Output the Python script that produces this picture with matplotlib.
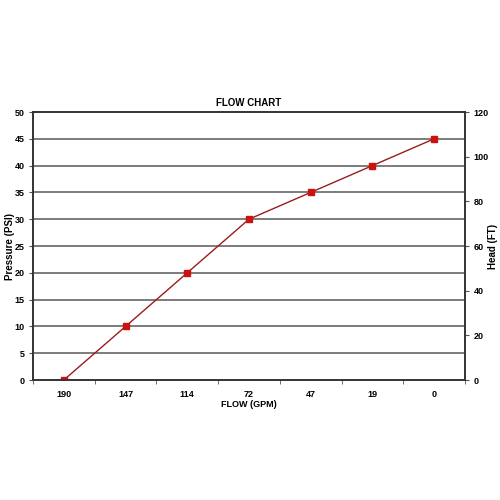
import matplotlib.pyplot as plt
import numpy as np

flow_gpm = ["190", "147", "114", "72", "47", "19", "0"]
pressure_psi = [0, 10, 20, 30, 35, 40, 45]
psi_ticks = [0, 5, 10, 15, 20, 25, 30, 35, 40, 45, 50]
head_ticks = [0, 20, 40, 60, 80, 100, 120]

plt.rcParams['font.family'] = ['Liberation Sans', 'DejaVu Sans']

fig = plt.figure(figsize=(5, 5), dpi=100)
ax = fig.add_axes([0.066, 0.24, 0.864, 0.536])

x = np.arange(len(flow_gpm))
for y in psi_ticks[1:-1]:
    ax.axhline(y, color='#666666', lw=1.2, zorder=1)
ax.plot(x, pressure_psi, color='#9b1c1c', lw=1, zorder=3)
ax.plot(x, pressure_psi, 's', color='#cc1111', ms=4, zorder=4)

ax.set_xlim(-0.5, len(flow_gpm) - 0.5)
ax.set_ylim(0, 50)
ax.set_yticks(psi_ticks)
ax.set_xticks(x)
ax.set_xticklabels(flow_gpm, fontweight='bold')
ax.set_xticks(np.arange(len(flow_gpm) + 1) - 0.5, minor=True)
ax.tick_params(axis='x', which='major', length=0, pad=7, labelsize=6.5)
ax.tick_params(axis='x', which='minor', length=3, color='#555555')
ax.tick_params(axis='y', length=3, labelsize=6.5, color='#555555', pad=3)
for lbl in ax.get_yticklabels():
    lbl.set_fontweight('bold')
for s in ax.spines.values():
    s.set_color('#333333')
    s.set_linewidth(1.2)

ax2 = ax.twinx()
ax2.set_ylim(0, 120)
ax2.set_yticks(head_ticks)
ax2.tick_params(axis='y', length=3, labelsize=6.5, color='#555555', pad=3)
for lbl in ax2.get_yticklabels():
    lbl.set_fontweight('bold')
for s in ax2.spines.values():
    s.set_color('#333333')
    s.set_linewidth(1.2)

ax.set_title('FLOW CHART', fontsize=7, fontweight='bold', pad=4)
ax.set_xlabel('FLOW (GPM)', fontsize=6.5, fontweight='bold')
ax.xaxis.set_label_coords(0.5, -0.075)
ax.set_ylabel('Pressure (PSI)', fontsize=7, fontweight='bold')
ax.yaxis.set_label_coords(-0.042, 0.5)
ax2.set_ylabel('Head (FT)', fontsize=7, fontweight='bold')
ax2.yaxis.set_label_coords(1.053, 0.5)

fig.savefig('out.png', dpi=100)
